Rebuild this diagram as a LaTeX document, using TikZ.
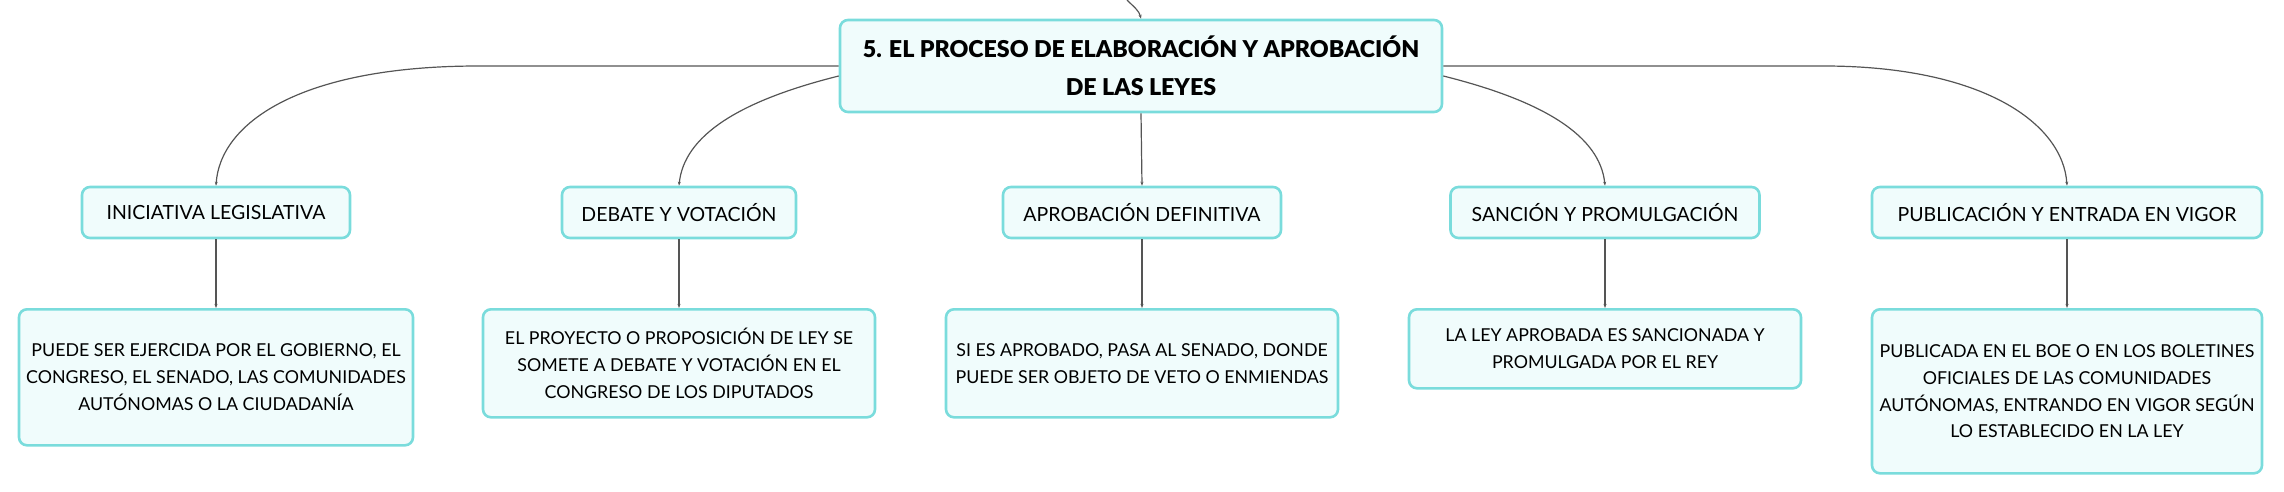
\documentclass[tikz,border=0pt]{standalone}
\usepackage{fontspec}
\setmainfont{Lato}
\newfontfamily\heavyfont{Lato Black}
\usetikzlibrary{arrows.meta}
\definecolor{boxline}{HTML}{7ADCDC}
\definecolor{boxfill}{HTML}{F0FCFC}
\definecolor{linkgray}{HTML}{555555}
\begin{document}
\begin{tikzpicture}[x=1pt, y=-1pt,
  box/.style={draw=boxline, fill=boxfill, line width=2.6pt, rounded corners=8pt, inner sep=0pt, align=center},
  main/.style={box, minimum width=602pt, minimum height=92pt, font=\fontsize{23.2}{38}\selectfont\heavyfont},
  topic/.style={box, minimum height=51pt, font=\fontsize{19.5}{26.7}\selectfont},
  detail/.style={box, anchor=north, minimum width=392pt, font=\fontsize{17.8}{26.7}\selectfont},
  link/.style={draw=linkgray, line width=1.2pt, -{Stealth[length=4pt,width=3pt]}}]
\useasboundingbox (0,0) rectangle (2284,492);

\node (root) at (1141, 66) [main] {5. EL PROCESO DE ELABORACIÓN Y APROBACIÓN\\DE LAS LEYES};
\coordinate (up) at (1127, 0);

\node (ini) at (216, 212.5) [topic, minimum width=268pt] {INICIATIVA LEGISLATIVA};
\node (deb) at (679, 212.5) [topic, minimum width=234pt] {DEBATE Y VOTACIÓN};
\node (apr) at (1142, 212.5) [topic, minimum width=278pt] {APROBACIÓN DEFINITIVA};
\node (san) at (1605, 212.5) [topic, minimum width=309pt] {SANCIÓN Y PROMULGACIÓN};
\node (pub) at (2067, 212.5) [topic, minimum width=390pt] {PUBLICACIÓN Y ENTRADA EN VIGOR};

\node (d1) at (216, 308) [detail, minimum width=394pt, minimum height=136pt] {PUEDE SER EJERCIDA POR EL GOBIERNO, EL\\CONGRESO, EL SENADO, LAS COMUNIDADES\\AUTÓNOMAS O LA CIUDADANÍA};
\node (d2) at (679, 308) [detail, minimum height=108pt] {EL PROYECTO O PROPOSICIÓN DE LEY SE\\SOMETE A DEBATE Y VOTACIÓN EN EL\\CONGRESO DE LOS DIPUTADOS};
\node (d3) at (1142, 308) [detail, minimum height=108pt] {SI ES APROBADO, PASA AL SENADO, DONDE\\PUEDE SER OBJETO DE VETO O ENMIENDAS};
\node (d4) at (1605, 308) [detail, minimum height=79pt] {LA LEY APROBADA ES SANCIONADA Y\\PROMULGADA POR EL REY};
\node (d5) at (2067, 308) [detail, minimum width=390pt, minimum height=164pt] {PUBLICADA EN EL BOE O EN LOS BOLETINES\\OFICIALES DE LAS COMUNIDADES\\AUTÓNOMAS, ENTRANDO EN VIGOR SEGÚN\\LO ESTABLECIDO EN LA LEY};

\draw[link] (up) .. controls +(8,8) and +(-2,-8) .. (root.north);
\draw[link] (root.west) -- ++(-360,0) .. controls +(-180,0) and +(4,-62) .. (ini.north);
\draw[link] ([yshift=-10pt]root.west) .. controls +(-100,25) and +(5,-50) .. (deb.north);
\draw[link] (root.south) -- (apr.north);
\draw[link] ([yshift=-10pt]root.east) .. controls +(100,25) and +(-5,-50) .. (san.north);
\draw[link] (root.east) -- ++(380,0) .. controls +(160,0) and +(-4,-62) .. (pub.north);

\draw[link] (ini.south) -- (d1.north);
\draw[link] (deb.south) -- (d2.north);
\draw[link] (apr.south) -- (d3.north);
\draw[link] (san.south) -- (d4.north);
\draw[link] (pub.south) -- (d5.north);
\end{tikzpicture}
\end{document}
